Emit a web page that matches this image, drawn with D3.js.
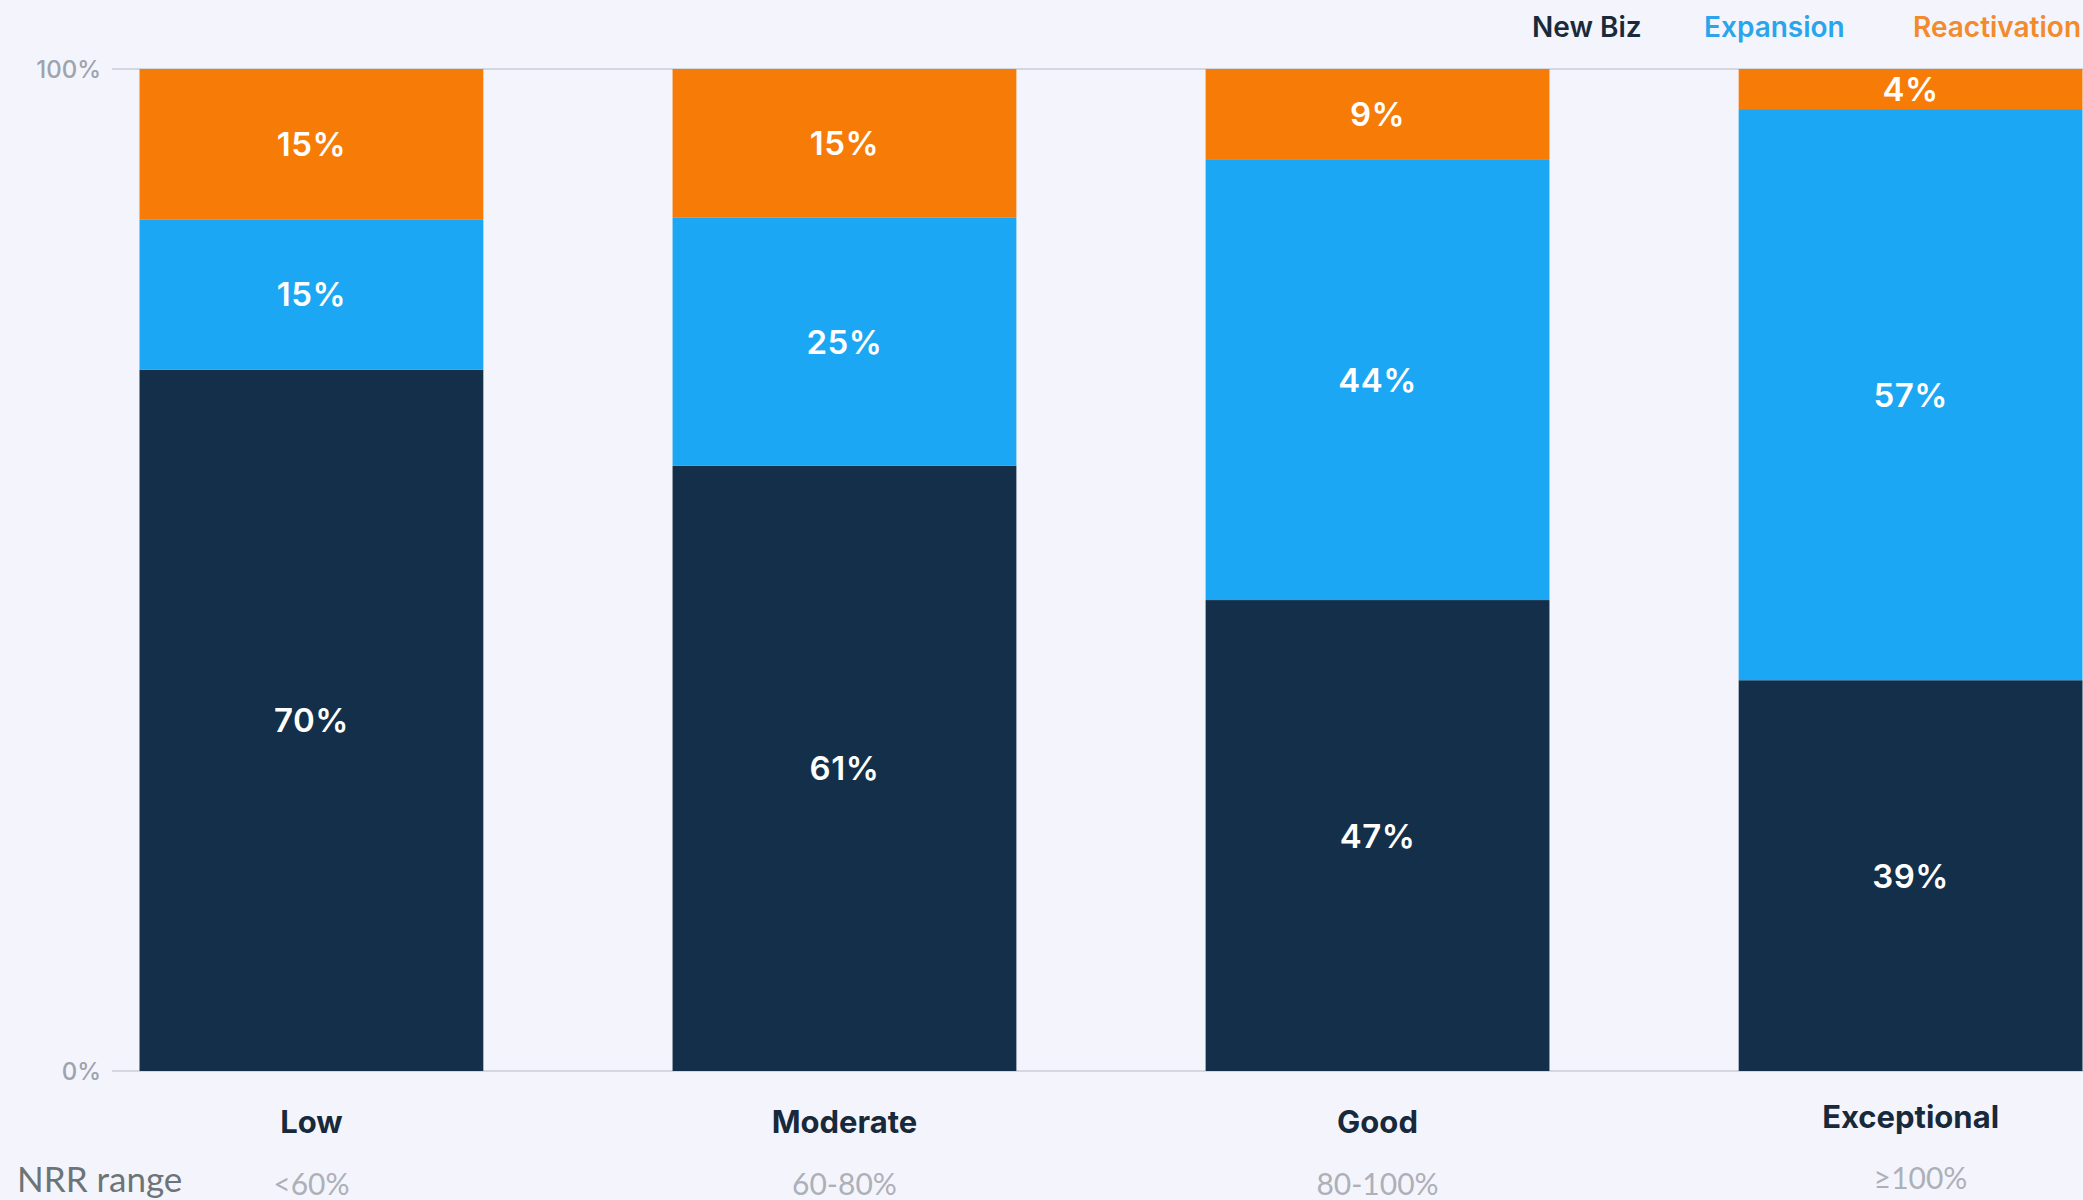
<!DOCTYPE html>
<html>
<head>
<meta charset="utf-8">
<script src="https://cdn.jsdelivr.net/npm/d3@7"></script>
<style>
  html, body { margin: 0; padding: 0; background: #f4f5fc; overflow: hidden; }
  svg { display: block; }
</style>
</head>
<body>
<svg id="chart" width="2083" height="1200"></svg>
<script>
const categories = ["Low", "Moderate", "Good", "Exceptional"];
const ranges = ["<60%", "60-80%", "80-100%", "≥100%"];
const seriesNames = ["New Biz", "Expansion", "Reactivation"];
const newBiz = [70, 61, 47, 39];
const expansion = [15, 25, 44, 57];
const reactivation = [15, 15, 9, 4];
const yTicks = [0, 100];

const colors = { "New Biz": "#142f4a", "Expansion": "#1ba7f3", "Reactivation": "#f77b07" };
const legendColors = { "New Biz": "#1b2a3a", "Expansion": "#2aa5ec", "Reactivation": "#f28a2e" };

const W = 2083, H = 1200;
const y0 = 1071, y1 = 69;

const svg = d3.select("#chart");

const rows = categories.map((c, i) => ({
  cat: c, range: ranges[i],
  "New Biz": newBiz[i], "Expansion": expansion[i], "Reactivation": reactivation[i]
}));

const x = d3.scaleBand().domain(categories).range([139.5, 2082.5]).paddingInner(0.355).paddingOuter(0);
const y = d3.scaleLinear().domain([0, 1]).range([y0, y1]);
const yPct = d3.scaleLinear().domain([0, 100]).range([y0, y1]);

// grid lines
const grid = svg.append("g");
grid.selectAll("line").data(yTicks).join("line")
  .attr("x1", 112).attr("x2", W)
  .attr("y1", d => yPct(d)).attr("y2", d => yPct(d))
  .attr("stroke", "#c9ccd6").attr("stroke-width", 1.5);

// y axis labels
svg.append("g").selectAll("text").data(yTicks).join("text")
  .attr("x", 101).attr("y", d => yPct(d))
  .attr("text-anchor", "end").attr("dominant-baseline", "central")
  .attr("font-family", "Inter, 'Noto Sans', sans-serif")
  .attr("font-size", 24).attr("font-weight", 500)
  .attr("fill", "#9ea3ad")
  .text(d => d + "%");

const stack = d3.stack().keys(seriesNames).offset(d3.stackOffsetExpand);
const stacked = stack(rows);

const layers = svg.append("g").selectAll("g").data(stacked).join("g")
  .attr("fill", d => colors[d.key]);

layers.selectAll("rect").data(d => d.map(s => ({ s, key: d.key }))).join("rect")
  .attr("x", d => x(d.s.data.cat))
  .attr("width", x.bandwidth())
  .attr("y", d => y(d.s[1]))
  .attr("height", d => y(d.s[0]) - y(d.s[1]));

// value labels
const labels = svg.append("g");
stacked.forEach(layer => {
  labels.selectAll(null).data(layer).join("text")
    .attr("x", d => x(d.data.cat) + x.bandwidth() / 2)
    .attr("y", d => (y(d[0]) + y(d[1])) / 2)
    .attr("text-anchor", "middle").attr("dominant-baseline", "central")
    .attr("font-family", "Inter, 'Noto Sans', sans-serif")
    .attr("font-size", 33).attr("font-weight", 600)
    .attr("letter-spacing", 0.5)
    .attr("fill", "#ffffff")
    .text(d => d.data[layer.key] + "%");
});

// category labels
svg.append("g").selectAll("text").data(rows).join("text")
  .attr("x", d => x(d.cat) + x.bandwidth() / 2)
  .attr("y", (d, i) => i === 3 ? 1116 : 1121)
  .attr("text-anchor", "middle").attr("dominant-baseline", "central")
  .attr("font-family", "Inter, 'Noto Sans', sans-serif")
  .attr("font-size", 31).attr("font-weight", 700)
  .attr("fill", "#17293a")
  .text(d => d.cat);

// range labels
svg.append("g").selectAll("text").data(rows).join("text")
  .attr("x", (d, i) => x(d.cat) + x.bandwidth() / 2 + (i === 3 ? 10 : 0))
  .attr("y", (d, i) => i === 3 ? 1177 : 1183)
  .attr("text-anchor", "middle").attr("dominant-baseline", "central")
  .attr("font-family", "Lato, 'Noto Sans', sans-serif")
  .attr("font-size", 30).attr("font-weight", 400)
  .attr("fill", "#adb0b8")
  .text(d => d.range);

svg.append("text")
  .attr("x", 17).attr("y", 1178)
  .attr("dominant-baseline", "central")
  .attr("font-family", "Lato, 'Noto Sans', sans-serif")
  .attr("font-size", 35).attr("font-weight", 400)
  .attr("fill", "#6c7478")
  .text("NRR range");

// legend
const legendX = [1532, 1704, 1913];
svg.append("g").selectAll("text").data(seriesNames).join("text")
  .attr("x", (d, i) => legendX[i]).attr("y", 27)
  .attr("dominant-baseline", "central")
  .attr("font-family", "Inter, 'Noto Sans', sans-serif")
  .attr("font-size", 28).attr("font-weight", 600)
  .attr("fill", d => legendColors[d])
  .text(d => d);
</script>
</body>
</html>
